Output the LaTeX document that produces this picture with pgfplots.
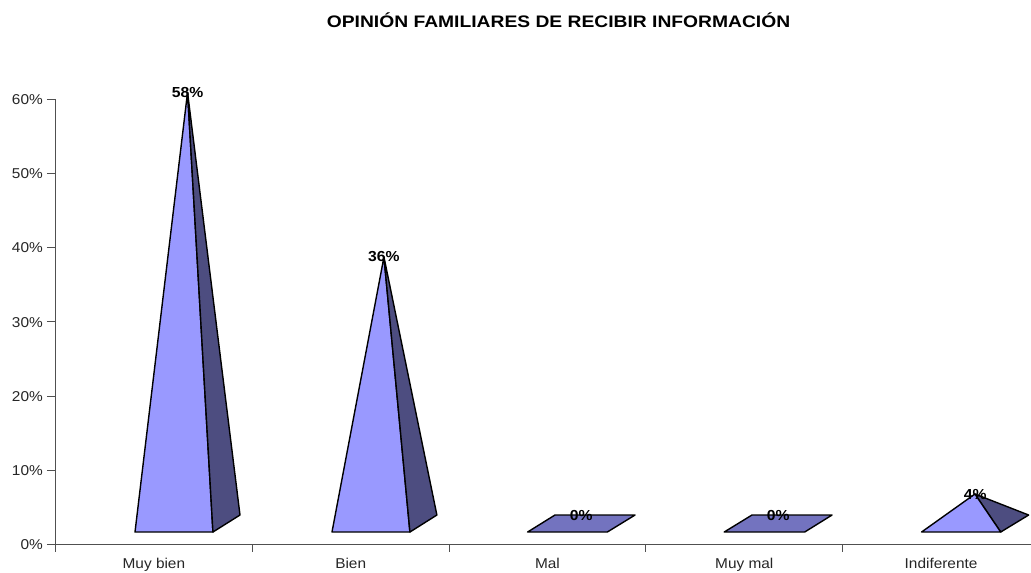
\documentclass[border=0pt]{standalone}
\usepackage{fontspec}
\setmainfont[FakeStretch=1.08]{Liberation Sans}
\usepackage{pgfplots}
\pgfplotsset{compat=1.18}
\definecolor{front}{HTML}{9999FF}
\definecolor{side}{HTML}{4D4D80}
\definecolor{flat}{HTML}{7373BF}
\definecolor{axc}{HTML}{505050}
\begin{document}
\begin{tikzpicture}
\path[use as bounding box] (0,0) rectangle (773.25pt,429pt);
\node[font=\fontsize{12.5pt}{14pt}\selectfont\bfseries,anchor=center,xscale=1.07] at (418.9pt,414.1pt) {OPINIÓN FAMILIARES DE RECIBIR INFORMACIÓN};
\begin{axis}[
  at={(41.625pt,20.625pt)}, anchor=south west,
  scale only axis, width=731.625pt, height=334.125pt,
  xmin=0, xmax=4.957, ymin=0, ymax=60,
  clip=false,
  axis lines*=left,
  axis line style={-, draw=axc, line width=0.75pt},
  ytick={0,10,20,30,40,50,60},
  yticklabels={0\%,10\%,20\%,30\%,40\%,50\%,60\%},
  xtick={0.5,1.5,2.5,3.5,4.5},
  xticklabels={Muy bien,Bien,Mal,Muy mal,Indiferente},
  minor xtick={0,1,2,3,4,5},
  major x tick style={draw=none},
  tick style={draw=axc, line width=0.75pt},
  tick align=outside,
  major tick length=6.5pt,
  minor tick length=5.5pt,
  every tick label/.append style={font=\fontsize{10.7pt}{12pt}\selectfont, text=black!85},
  yticklabel style={xshift=0.5pt,yshift=-0.4pt},
  xticklabel style={yshift=0pt},
]
% Pyramid 1
\addplot[fill=front, draw=black, line width=1.05pt, line join=round] coordinates {(0.404,1.68) (0.800,1.68) (0.671,60.9)} -- cycle;
\addplot[fill=side, draw=black, line width=1.05pt, line join=round] coordinates {(0.800,1.68) (0.9375,3.97) (0.671,60.9)} -- cycle;
% Pyramid 2
\addplot[fill=front, draw=black, line width=1.05pt, line join=round] coordinates {(1.405,1.68) (1.801,1.68) (1.669,38.72)} -- cycle;
\addplot[fill=side, draw=black, line width=1.05pt, line join=round] coordinates {(1.801,1.68) (1.938,3.97) (1.669,38.72)} -- cycle;
% Flat
\addplot[fill=flat, draw=black, line width=1.05pt, line join=round] coordinates {(2.399,1.68) (2.804,1.68) (2.945,3.97) (2.538,3.97)} -- cycle;
\addplot[fill=flat, draw=black, line width=1.05pt, line join=round] coordinates {(3.398,1.68) (3.807,1.68) (3.946,3.97) (3.539,3.97)} -- cycle;
% Pyramid 5
\addplot[fill=side, draw=black, line width=1.05pt, line join=round] coordinates {(4.803,1.68) (4.945,3.97) (4.672,6.80)} -- cycle;
\addplot[fill=front, draw=black, line width=1.05pt, line join=round] coordinates {(4.401,1.68) (4.803,1.68) (4.672,6.80)} -- cycle;
% Labels
\begin{scope}[every node/.style={font=\fontsize{10.9pt}{12pt}\selectfont\bfseries, text=black, inner sep=0pt}]
\node at (axis cs:0.671,60.9) {58\%};
\node at (axis cs:1.669,38.8) {36\%};
\node at (axis cs:2.672,3.9) {0\%};
\node at (axis cs:3.672,3.9) {0\%};
\node at (axis cs:4.673,6.8) {4\%};
\end{scope}
\end{axis}
\end{tikzpicture}
\end{document}
